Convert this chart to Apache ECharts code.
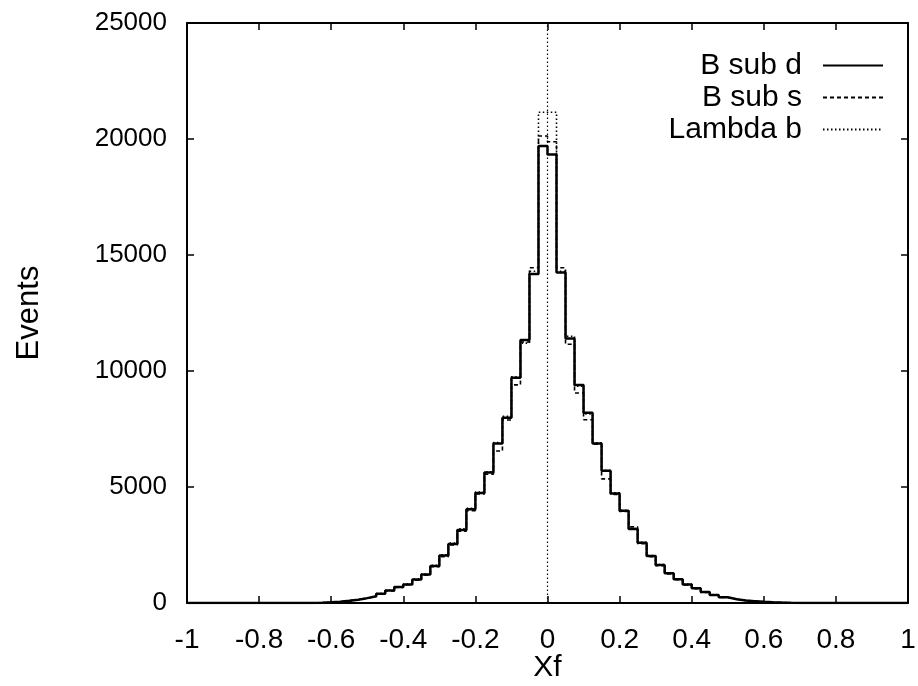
<!DOCTYPE html>
<html>
<head>
<meta charset="utf-8">
<script src="https://cdn.jsdelivr.net/npm/echarts@6/dist/echarts.min.js"></script>
<style>
html,body{margin:0;padding:0;background:#fff;}
#chart{width:918px;height:686px;}
</style>
</head>
<body>
<div id="chart"></div>
<script>
// Bin left edges: 80 bins of width 0.025 from -1 to 1
const binStart = -1;
const binWidth = 0.025;
const xTicks = ['-1','-0.8','-0.6','-0.4','-0.2','0','0.2','0.4','0.6','0.8','1'];
const yTicks = ['0','5000','10000','15000','20000','25000'];
const seriesNames = ['B sub d','B sub s','Lambda b'];

const bSubD = [
  0,0,0,0,0,0,0,0,0,0,
  0,0,0,5,15,30,55,95,140,210,
  290,400,540,690,800,1010,1230,1600,2050,2540,
  3150,4040,4740,5620,6880,7990,9710,11340,14180,19700,
  19330,14250,11400,9400,8200,6870,5700,4720,3980,3190,
  2600,2030,1640,1280,1020,800,640,470,345,245,
  165,110,80,50,30,18,10,5,0,0,
  0,0,0,0,0,0,0,0,0,0
];
const bSubS = [
  0,0,0,0,0,0,0,0,0,0,
  0,0,0,5,12,28,50,90,130,200,
  280,390,520,670,790,980,1200,1560,2000,2500,
  3100,3980,4700,5550,6550,7890,9400,11250,14450,20130,
  19880,14450,11150,9050,7900,6850,5350,4680,3950,3280,
  2560,2000,1610,1250,1000,780,620,460,335,240,
  160,105,75,48,28,16,9,4,0,0,
  0,0,0,0,0,0,0,0,0,0
];
const lambdaB = [
  0,0,0,0,0,0,0,0,0,0,
  0,0,0,6,16,32,58,98,145,215,
  300,410,550,700,820,1030,1250,1630,2080,2580,
  3200,4080,4780,5660,6920,8050,9750,11200,14300,21150,
  21150,14300,11500,9350,8150,6900,5720,4750,4000,3210,
  2620,2050,1660,1300,1040,820,650,480,350,250,
  170,115,82,52,32,19,11,5,0,0,
  0,0,0,0,0,0,0,0,0,0
];

function toSteps(vals){
  const pts = vals.map((v,i)=>[+(binStart + i*binWidth).toFixed(3), v]);
  pts.push([+(binStart + vals.length*binWidth).toFixed(3), vals[vals.length-1]]);
  return pts;
}

const FONT = 'Liberation Sans, Arial, Helvetica, sans-serif';
const chart = echarts.init(document.getElementById('chart'), null, {renderer:'canvas'});

const gridPos = {left:187, right:10, top:23, bottom:83, containLabel:false, outerBoundsMode:'none'};
const commonX = {
  type:'value', min:-1, max:1, interval:0.2,
  splitLine:{show:false},
  axisLine:{show:true, onZero:false, lineStyle:{color:'#000', width:2}},
  axisTick:{show:true, inside:true, length:7, lineStyle:{color:'#000', width:1.5}}
};
const commonY = {
  type:'value', min:0, max:25000, interval:5000,
  splitLine:{show:false},
  axisLine:{show:true, onZero:false, lineStyle:{color:'#000', width:2}},
  axisTick:{show:true, inside:true, length:7, lineStyle:{color:'#000', width:1.5}}
};

chart.setOption({
  animation:false,
  backgroundColor:'#fff',
  grid: gridPos,
  legend:{
    show:true,
    data: seriesNames.map(n=>({name:n, itemStyle:{opacity:0}})),
    orient:'vertical',
    align:'right',
    right:29,
    top:45,
    itemWidth:60,
    itemHeight:18,
    itemGap:1,
    textStyle:{fontFamily:FONT, fontSize:30, lineHeight:31, color:'#000', padding:[0,16,0,0]},
    inactiveColor:'#000'
  },
  xAxis:[
    Object.assign({}, commonX, {
      position:'bottom',
      name:'Xf', nameLocation:'middle', nameGap:50, nameMoveOverlap:false,
      nameTextStyle:{fontFamily:FONT, fontSize:30, color:'#000'},
      axisLabel:{show:true, margin:23, fontFamily:FONT, fontSize:28, color:'#000',
        formatter:(v)=>xTicks[Math.round((v+1)/0.2)]}
    }),
    Object.assign({}, commonX, {position:'top', axisLabel:{show:false}})
  ],
  yAxis:[
    Object.assign({}, commonY, {
      position:'left',
      name:'Events', nameLocation:'middle', nameGap:142, nameRotate:90, nameMoveOverlap:false,
      nameTextStyle:{fontFamily:FONT, fontSize:31, color:'#000'},
      axisLabel:{show:true, margin:20, fontFamily:FONT, fontSize:26, color:'#000',
        formatter:(v)=>yTicks[Math.round(v/5000)]}
    }),
    Object.assign({}, commonY, {position:'right', axisLabel:{show:false}})
  ],
  series:[
    {
      name:'B sub d', type:'line', step:'end', data:toSteps(bSubD),
      symbol:'none', color:'#000',
      lineStyle:{color:'#000', width:2.5, type:'solid'},
      z:5,
      markLine:{
        silent:true, symbol:'none', label:{show:false},
        lineStyle:{color:'#000', width:1.2, type:[1.5,2.5]},
        data:[{xAxis:0}]
      }
    },
    {
      name:'B sub s', type:'line', step:'end', data:toSteps(bSubS),
      symbol:'none', color:'#000',
      lineStyle:{color:'#000', width:1.6, type:[4,3]},
      z:4
    },
    {
      name:'Lambda b', type:'line', step:'end', data:toSteps(lambdaB),
      symbol:'none', color:'#000',
      lineStyle:{color:'#000', width:1.6, type:[1.5,2.5]},
      z:3
    }
  ]
});
</script>
</body>
</html>
